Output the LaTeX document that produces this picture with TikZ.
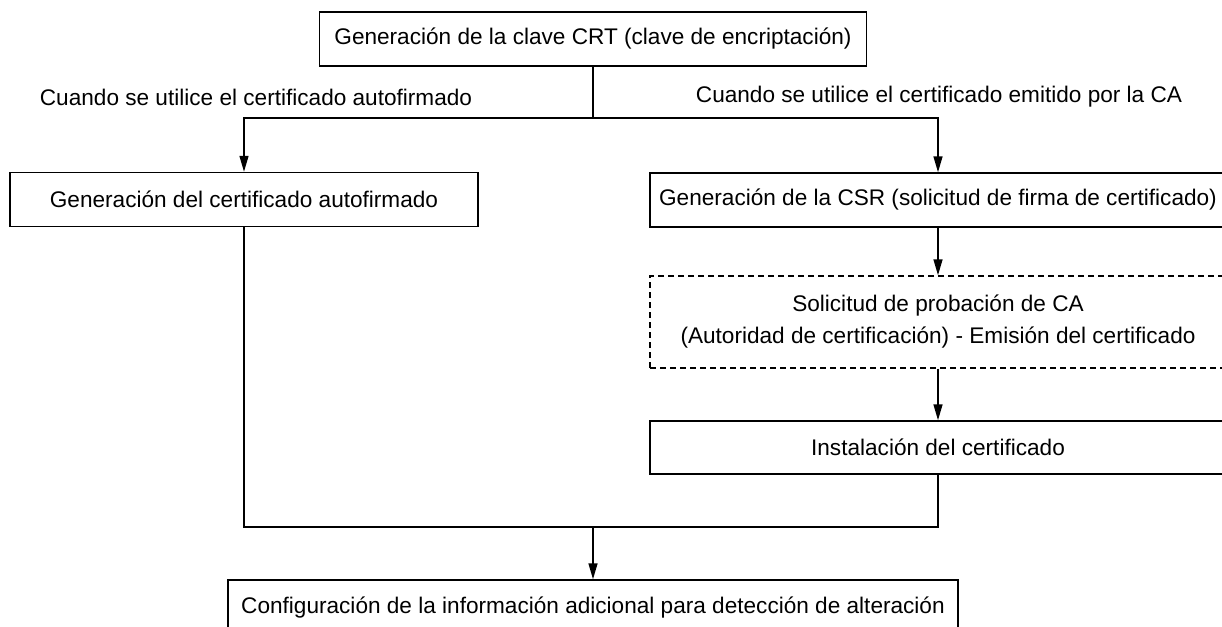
\documentclass[tikz,border=0pt]{standalone}
\usepackage{fontspec}
\setmainfont{Liberation Sans}
\usepackage{tikz}
\usetikzlibrary{arrows.meta}

\begin{document}
\begin{tikzpicture}[x=0.5pt, y=-0.5pt,
    caja/.style={draw, line width=0.75pt, minimum height=27pt, inner sep=0pt},
    cajapunteada/.style={caja, dash pattern=on 3pt off 2pt},
    flecha/.style={-{Triangle[length=8pt,width=4.5pt]}},
    every node/.style={font=\fontsize{11.3}{16}\selectfont},
    line width=0.75pt]
        % Marco (la imagen corta las cajas de la derecha y de abajo)
        \clip (0,0) rectangle (1222,627);
        \useasboundingbox (0,0) rectangle (1222,627);

        % Clave CRT
        \node (crt) at (593,39) [caja, minimum width=273.5pt] {Generación de la clave CRT (clave de encriptación)};

        % Textos de las dos ramas
        \node (txtauto) at (256,97) {Cuando se utilice el certificado autofirmado};
        \node (txtca) at (939,97) {Cuando se utilice el certificado emitido por la CA};

        % Rama izquierda
        \node (auto) at (244,199.5) [caja, minimum width=234pt] {Generación del certificado autofirmado};

        % Rama derecha
        \node (csr) at (938,200) [caja, minimum width=288pt] {Generación de la CSR (solicitud de firma de certificado)};
        \node (ca) at (938,322) [cajapunteada, minimum width=288pt, minimum height=46pt, align=center]
            {Solicitud de probación de CA\\(Autoridad de certificación) - Emisión del certificado};
        \node (inst) at (938,447.5) [caja, minimum width=288pt, minimum height=26.5pt] {Instalación del certificado};

        % Configuración final
        \node (conf) at (593,608) [caja, minimum width=365pt, minimum height=28pt] {Configuración de la información adicional para detección de alteración};

        % Bifurcación
        \coordinate (split) at (593,118);
        \draw (crt.south) -- (split);
        \draw[flecha] (split) -| (auto.north);
        \draw[flecha] (split) -| (csr.north);

        % Pasos de la CA
        \draw[flecha] (csr.south) -- (ca.north);
        \draw[flecha] (ca.south) -- (inst.north);

        % Unión
        \coordinate (merge) at (593,527);
        \draw (auto.south) |- (merge) -| (inst.south);
        \draw[flecha] (merge) -- (conf.north);
\end{tikzpicture}
\end{document}
